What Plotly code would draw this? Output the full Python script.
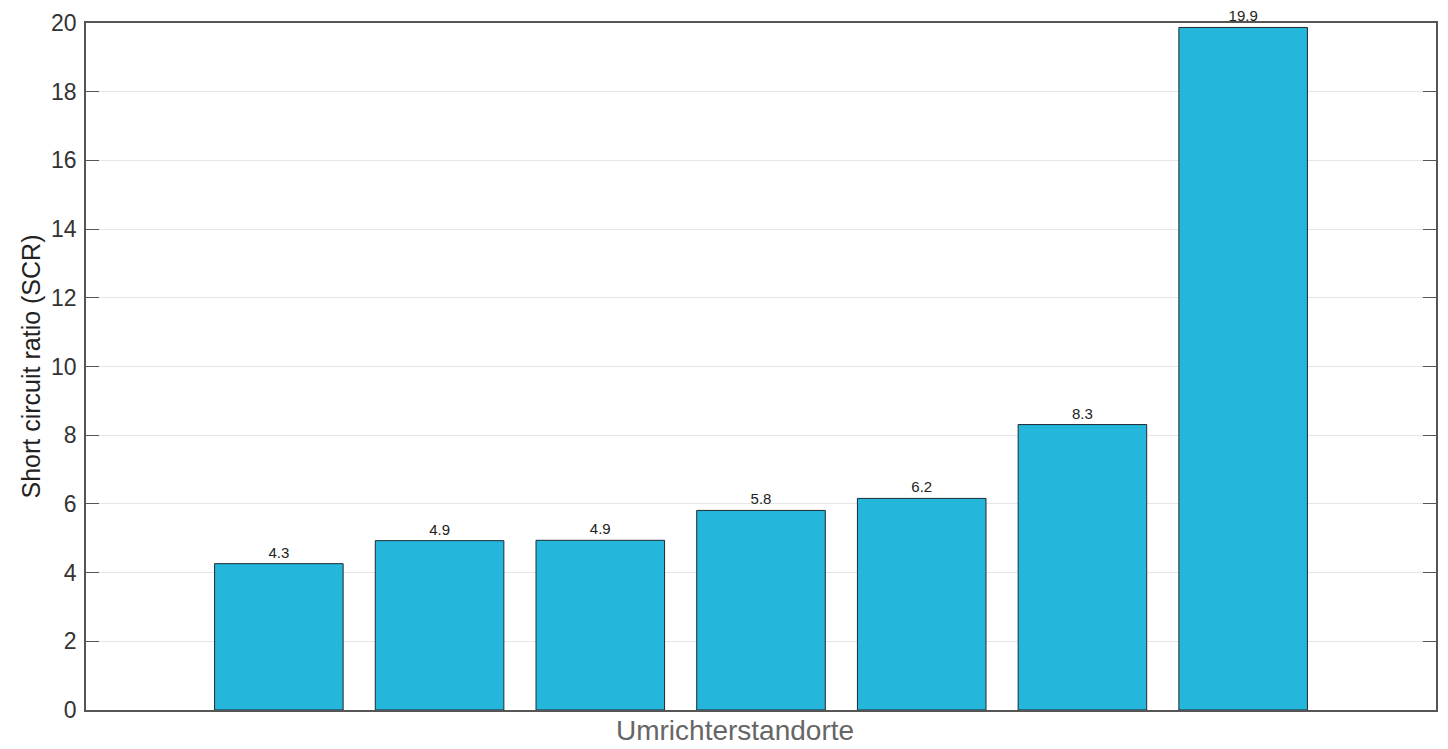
import plotly.graph_objects as go

positions = [1, 2, 3, 4, 5, 6, 7]
scr_values = [4.26, 4.93, 4.94, 5.81, 6.16, 8.31, 19.87]
y_ticks = [0, 2, 4, 6, 8, 10, 12, 14, 16, 18, 20]

FONT = "Liberation Sans, Arial, Helvetica, sans-serif"

fig = go.Figure()
fig.add_trace(go.Bar(
    x=positions,
    y=scr_values,
    width=0.8,
    marker=dict(color="#24B6DB", line=dict(color="#1f2a30", width=1)),
    texttemplate="%{y:.1f}",
    textposition="outside",
    textfont=dict(family=FONT, size=15, color="#222222"),
    cliponaxis=False,
    showlegend=False,
))

fig.update_layout(
    width=1440, height=741,
    margin=dict(l=78, r=12, t=15, b=38.5),
    paper_bgcolor="white",
    plot_bgcolor="white",
    font=dict(family=FONT),
    bargap=0.2,
    annotations=[dict(
        text="Umrichterstandorte",
        xref="paper", yref="paper", x=0.4807, y=0,
        xanchor="center", yanchor="top", yshift=-3,
        showarrow=False,
        font=dict(family=FONT, size=28, color="#666666"),
    )],
)
fig.update_xaxes(
    range=[-0.2, 8.2],
    showticklabels=False,
    ticks="",
    showgrid=False,
    zeroline=False,
    automargin=False,
    showline=True, linecolor="#555555", linewidth=1.5, mirror=True,
)
fig.update_yaxes(
    range=[0, 20],
    tickvals=y_ticks,
    ticks="inside", ticklen=13, tickcolor="#555555", tickwidth=1.2,
    tickfont=dict(size=23, color="#333333"),
    ticklabelstandoff=3,
    showgrid=True, gridcolor="#e6e6e6", gridwidth=1,
    zeroline=False,
    automargin=False,
    showline=True, linecolor="#555555", linewidth=1.5, mirror="ticks",
    title=dict(text="Short circuit ratio (SCR)", font=dict(size=25, color="#222222"), standoff=3),
)

fig.write_html("out.html")
